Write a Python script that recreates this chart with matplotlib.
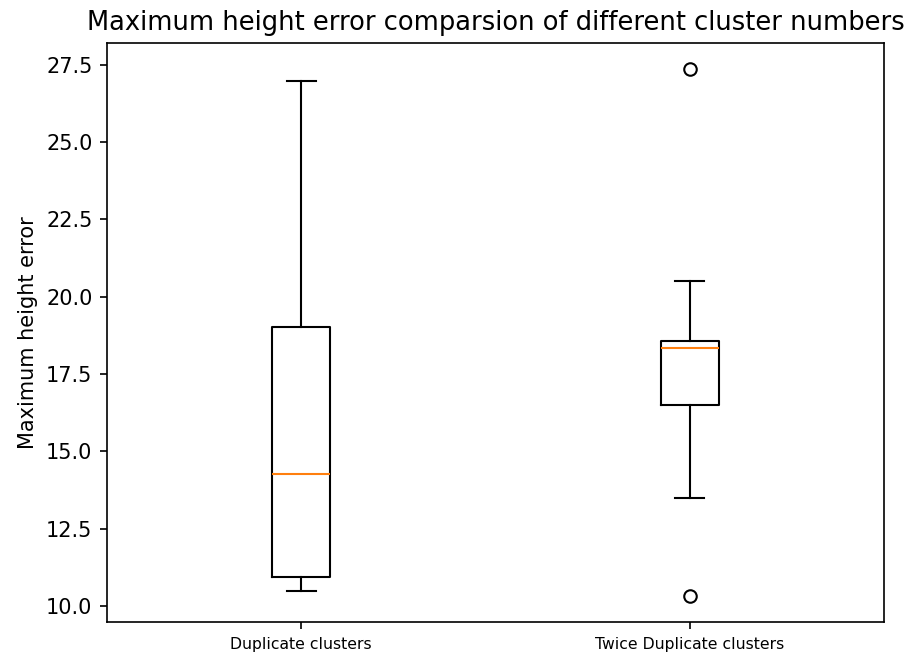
import matplotlib
matplotlib.use("Agg")
import matplotlib.pyplot as plt

# box statistics
labels = ["Duplicate clusters", "Twice Duplicate clusters"]
whislo = [10.47, 13.5]
q1 = [10.92, 16.48]
med = [14.27, 18.35]
q3 = [19.02, 18.58]
whishi = [26.98, 20.5]
fliers = [[], [27.35, 10.33]]

stats = []
for i in range(len(labels)):
    stats.append({
        "label": labels[i],
        "whislo": whislo[i],
        "q1": q1[i],
        "med": med[i],
        "q3": q3[i],
        "whishi": whishi[i],
        "fliers": fliers[i],
    })

fig, ax = plt.subplots(figsize=(9.12, 6.56), dpi=100)
fig.subplots_adjust(left=0.1173, right=0.9693, top=0.9345, bottom=0.0518)

lw = 1.5
ax.bxp(stats, widths=0.15,
       flierprops=dict(markersize=9, markeredgewidth=lw),
       boxprops=dict(linewidth=lw), whiskerprops=dict(linewidth=lw),
       capprops=dict(linewidth=lw), medianprops=dict(linewidth=lw))

ax.set_title("Maximum height error comparsion of different cluster numbers",
             fontsize=18.5, pad=9)
ax.set_ylabel("Maximum height error", fontsize=15, labelpad=6)
ax.tick_params(axis="both", length=5.25, width=1.2, pad=5.25)
ax.tick_params(axis="y", labelsize=15)
ax.tick_params(axis="x", labelsize=11.25)
ax.set_yticks([10.0, 12.5, 15.0, 17.5, 20.0, 22.5, 25.0, 27.5])
for s in ax.spines.values():
    s.set_linewidth(1.2)

plt.savefig("out.png")
